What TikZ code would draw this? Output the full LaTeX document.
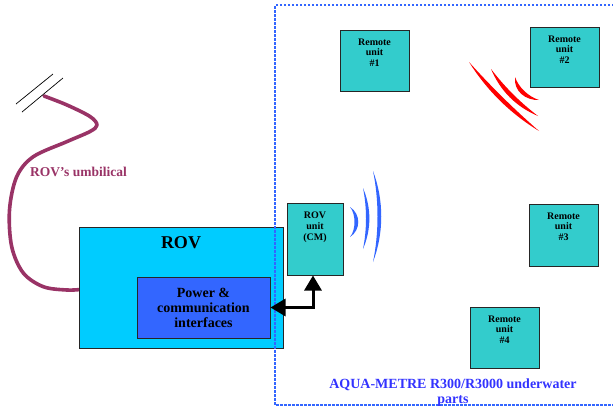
\documentclass[tikz,border=0pt]{standalone}
\usepackage{fontspec}
\setmainfont{Liberation Serif}
\usetikzlibrary{arrows.meta}
\definecolor{unitfill}{HTML}{33CCCC}
\definecolor{rovfill}{HTML}{00CCFF}
\definecolor{ifacefill}{HTML}{3366FF}
\definecolor{framecol}{HTML}{3366FF}
\definecolor{titlecol}{HTML}{3333FF}
\definecolor{cablecol}{HTML}{993366}
\definecolor{wavecol}{HTML}{3366FF}
\definecolor{pingcol}{HTML}{FF0000}
\begin{document}
\begin{tikzpicture}[x=1pt,y=-1pt,
  box/.style={draw=black!85,line width=1pt,inner sep=0pt},
  unit/.style={box,fill=unitfill,minimum width=69pt},
  unittext/.style={inner sep=0pt,anchor=north,align=center,font=\bfseries\fontsize{10}{10.5}\selectfont},
  frame/.style={draw=framecol,line width=2.5pt,dash pattern=on 2.5pt off 1.5pt},
  cable/.style={draw=cablecol,line width=3.6pt,line cap=round,line join=round},
  link/.style={line width=3pt,{Triangle[length=15pt,width=17pt]}-{Triangle[length=15pt,width=17pt]}},
]
\useasboundingbox (0,0) rectangle (613,410);

% umbilical cable with break mark
\draw[cable] plot[smooth,tension=0.55] coordinates {(44,96) (67,105) (90,116.5) (97,125) (90,131.5) (66.7,141.7) (33.3,156.7) (16.7,176.7) (9.5,210) (11.7,246.7) (23.3,273) (43.3,286.7) (66.7,290) (80,289.5)};
\draw[line width=0.7pt] (16,104) -- (53,74);
\draw[line width=0.7pt] (22,112) -- (63,78);
\node[text=cablecol,font=\bfseries\fontsize{13.5}{15}\selectfont,anchor=west,inner sep=0pt] (umb) at (30,172) {ROV’s umbilical};

% vehicle and its interface board
\node[box,fill=rovfill,minimum width=204pt,minimum height=121pt] (rov) at (181,287.5) {};
\node[font=\bfseries\fontsize{18}{20}\selectfont,inner sep=0pt] (rovt) at (181,243) {ROV};
\node[box,fill=ifacefill,minimum width=133pt,minimum height=61pt,align=center,font=\bfseries\fontsize{14}{15}\selectfont] (pw) at (203.5,307.5) {Power \&\\communication\\interfaces};

% underwater parts frame
\draw[frame] (614,5) -- (275,5) -- (275,405) -- (614,405);
\node[text=titlecol,align=center,font=\bfseries\fontsize{14}{15}\selectfont,inner sep=0pt] (title) at (453,392.5) {AQUA-METRE R300/R3000 underwater\\parts};

% ROV unit and its link
\node[box,fill=unitfill,minimum width=56pt,minimum height=72pt] (cm) at (315,239) {};
\node[unittext,font=\bfseries\fontsize{10}{11}\selectfont] (cmt) at ([yshift=-9pt]cm.north) {ROV\\unit\\(CM)};
\draw[link] (pw.east) -| ([xshift=-2pt]cm.south);

% acoustic waves from the ROV unit
\fill[wavecol] (350,207) .. controls (361,214) and (361,230) .. (350,237) .. controls (356,230) and (356,214) .. (350,207) -- cycle;
\fill[wavecol] (363,188) .. controls (371.5,208) and (371.5,229) .. (363,249) .. controls (367,229) and (367,208) .. (363,188) -- cycle;
\fill[wavecol] (373,171) .. controls (384,200) and (384,233) .. (373,262) .. controls (379,233) and (379,200) .. (373,171) -- cycle;

% remote units
\node[unit,minimum height=61pt] (r1) at (374.5,60.5) {};
\node[unittext] (r1t) at ([yshift=-9pt]r1.north) {Remote\\unit\\\#1};
\node[unit,minimum height=60pt] (r2) at (564.5,57) {};
\node[unittext] (r2t) at ([yshift=-9pt]r2.north) {Remote\\unit\\\#2};
\node[unit,minimum height=62pt] (r3) at (563.5,235) {};
\node[unittext] (r3t) at ([yshift=-9pt]r3.north) {Remote\\unit\\\#3};
\node[unit,minimum height=61pt] (r4) at (504.5,337.5) {};
\node[unittext] (r4t) at ([yshift=-9pt]r4.north) {Remote\\unit\\\#4};

% reply pings near remote unit 2
\fill[pingcol] (469,62) .. controls (486.9,90.5) and (510.3,113.5) .. (539,131) .. controls (514.3,109.4) and (490.9,86.4) .. (469,62) -- cycle;
\fill[pingcol] (491,69) .. controls (500.4,91.1) and (516,106.7) .. (538,116) .. controls (520.2,102.4) and (504.6,86.8) .. (491,69) -- cycle;
\fill[pingcol] (515,77) .. controls (513.5,91.5) and (525.8,100.5) .. (539,100) .. controls (528,96.5) and (518.5,87) .. (515,77) -- cycle;
\end{tikzpicture}
\end{document}
